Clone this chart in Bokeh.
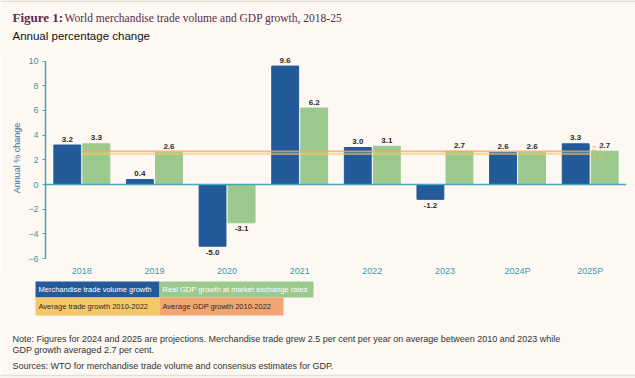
from bokeh.plotting import figure
from bokeh.layouts import column
from bokeh.models import ColumnDataSource, FactorRange, Range1d, FixedTicker, Span
from bokeh.transform import dodge
from bokeh.core.properties import value
from bokeh.embed import file_html
from bokeh.resources import INLINE

# ---- data -------------------------------------------------------------
years = ["2018", "2019", "2020", "2021", "2022", "2023", "2024P", "2025P"]
trade_growth = [3.2, 0.4, -5.0, 9.6, 3.0, -1.2, 2.6, 3.3]
gdp_growth = [3.3, 2.6, -3.1, 6.2, 3.1, 2.7, 2.6, 2.7]
avg_trade = 2.5
avg_gdp = 2.7
y_ticks = [-6, -4, -2, 0, 2, 4, 6, 8, 10]

legend_items = [
    "Merchandise trade volume growth",
    "Real GDP growth at market exchange rates",
    "Average trade growth 2010-2022",
    "Average GDP growth 2010-2022",
]
notes = [
    "Note: Figures for 2024 and 2025 are projections. Merchandise trade grew 2.5 per cent per year on average between 2010 and 2023 while",
    "GDP growth averaged 2.7 per cent.",
    "Sources: WTO for merchandise trade volume and consensus estimates for GDP.",
]

# ---- style ------------------------------------------------------------
BG = "#fdf8f2"
BLUE = "#235a9a"
GREEN = "#9bc98e"
YELLOW = "#f3c868"
ORANGE = "#f3a571"
TEAL = "#45a6b8"
TEAL_TXT = "#3a9ab0"
PLUM = "#5a2c4e"
SANS = "Liberation Sans"
SERIF = "Liberation Serif"
W = 635
HEAD_H, MAIN_H, FOOT_H = 52, 227, 99


def lab(v):
    return f"{v:.1f}"


def canvas_fig(h):
    """A figure whose frame is the whole canvas, in pixel units from top-left."""
    f = figure(width=W, height=h, x_range=Range1d(0, W), y_range=Range1d(h, 0),
               output_backend="svg", toolbar_location=None, min_border=0,
               x_axis_location=None, y_axis_location=None)
    f.frame_align = False
    f.grid.grid_line_color = None
    f.outline_line_color = None
    f.background_fill_color = BG
    f.border_fill_color = BG
    return f


# ---- header -----------------------------------------------------------
head = canvas_fig(HEAD_H)
head.line(x=[0, W], y=[0.5, 0.5], line_color="#d9d6d2", line_width=1.5)
head.text(x=[12], y=[17], text=["Figure 1:"], text_font=value(SERIF),
          text_font_style="bold", text_font_size="13px", text_color=PLUM,
          text_baseline="middle")
head.text(x=[64], y=[17], text=["World merchandise trade volume and GDP growth, 2018-25"],
          text_font=value(SERIF), text_font_size="11.5px", text_color=PLUM,
          text_baseline="middle")
head.text(x=[12], y=[35], text=["Annual percentage change"], text_font=value(SANS),
          text_font_size="11.5px", text_color="#111111", text_baseline="middle")

# ---- main chart -------------------------------------------------------
src = ColumnDataSource(dict(
    year=years,
    trade=trade_growth,
    gdp=gdp_growth,
    trade_lab=[lab(v) for v in trade_growth],
    gdp_lab=[lab(v) for v in gdp_growth],
    trade_off=[6 if v < 0 else -6 for v in trade_growth],
    gdp_off=[6 if v < 0 else -6 for v in gdp_growth],
))

p = figure(width=W, height=MAIN_H, x_range=FactorRange(factors=years, range_padding=0),
           y_range=Range1d(-6.4, 10.7), output_backend="svg", toolbar_location=None,
           min_border_left=45, min_border_right=9, min_border_top=0,
           min_border_bottom=16)
p.frame_align = False
p.background_fill_color = BG
p.border_fill_color = BG
p.outline_line_color = None
p.grid.grid_line_color = None

p.vbar(x=dodge("year", -0.2, range=p.x_range), top="trade", width=0.37,
       source=src, color=BLUE)
p.vbar(x=dodge("year", 0.2, range=p.x_range), top="gdp", width=0.37,
       source=src, color=GREEN)

p.add_layout(Span(location=0, dimension="width", line_color=TEAL, line_width=1.5))

# period averages, drawn over the bars
p.line(x=[years[0], years[-1]], y=[avg_gdp, avg_gdp], line_color=ORANGE,
       line_width=1.5, line_alpha=0.8)
p.line(x=[years[0], years[-1]], y=[avg_trade, avg_trade], line_color=YELLOW,
       line_width=2.5, line_alpha=0.6)

for col, dx in (("trade", -0.2), ("gdp", 0.2)):
    p.text(x=dodge("year", dx, range=p.x_range), y=col, text=col + "_lab",
           y_offset=col + "_off", source=src, text_align="center",
           text_baseline="middle", text_font=value(SANS), text_font_style="bold",
           text_font_size="8px", text_color="#2b2b2b")

p.text(x=[years[-1]], y=[avg_gdp], text=[lab(avg_gdp)], x_offset=7, y_offset=-3,
       text_align="center", text_baseline="middle", text_font=value(SANS),
       text_font_size="8px", text_color=ORANGE)
p.text(x=[years[-1]], y=[avg_trade], text=[lab(avg_trade)], x_offset=7, y_offset=2,
       text_align="center", text_baseline="middle", text_font=value(SANS),
       text_font_size="8px", text_color="#e8be5a")

p.yaxis.ticker = FixedTicker(ticks=y_ticks)
p.yaxis.bounds = (-6, 10)
p.yaxis.axis_line_color = TEAL
p.yaxis.axis_line_width = 1.5
p.yaxis.major_tick_line_color = TEAL
p.yaxis.major_tick_out = 3
p.yaxis.major_tick_in = 0
p.yaxis.minor_tick_line_color = None
p.yaxis.major_label_text_color = TEAL_TXT
p.yaxis.major_label_text_font = SANS
p.yaxis.major_label_text_font_size = "9px"
p.yaxis.major_label_standoff = 4
p.yaxis.axis_label = "Annual % change"
p.yaxis.axis_label_text_color = "#3d6fa6"
p.yaxis.axis_label_text_font = SANS
p.yaxis.axis_label_text_font_style = "normal"
p.yaxis.axis_label_text_font_size = "9px"
p.yaxis.axis_label_standoff = 3

p.xaxis.axis_line_color = None
p.xaxis.major_tick_line_color = None
p.xaxis.major_tick_out = 0
p.xaxis.major_tick_in = 0
p.xaxis.minor_tick_line_color = None
p.xaxis.major_label_text_color = TEAL_TXT
p.xaxis.major_label_text_font = SANS
p.xaxis.major_label_text_font_size = "9px"
p.xaxis.major_label_standoff = 2

# ---- legend and footer ------------------------------------------------
foot = canvas_fig(FOOT_H)
y0 = HEAD_H + MAIN_H  # page offset of this panel
rows = [  # left, right, top, bottom (page pixels), fill, text colour
    (35, 159, 281, 297, BLUE, "white"),
    (159, 313, 281, 297, GREEN, "white"),
    (35, 159, 297, 315, YELLOW, "#2b2b2b"),
    (159, 283, 297, 315, ORANGE, "#2b2b2b"),
]
foot.quad(left=[r[0] for r in rows], right=[r[1] for r in rows],
          top=[r[2] - y0 for r in rows], bottom=[r[3] - y0 for r in rows],
          fill_color=[r[4] for r in rows], line_color=None)
foot.text(x=[r[0] + 3 for r in rows], y=[(r[2] + r[3]) / 2 - y0 for r in rows],
          text=legend_items, text_color=[r[5] for r in rows],
          text_baseline="middle", text_font=value(SANS), text_font_size="7.5px")
foot.text(x=[12, 12, 12], y=[338 - y0, 349 - y0, 365 - y0], text=notes,
          text_baseline="middle", text_font=value(SANS), text_font_size="9px",
          text_color="#333333")
foot.line(x=[0, W], y=[FOOT_H - 3, FOOT_H - 3], line_color="#e3e0dc", line_width=1.5)

layout = column(head, p, foot, spacing=0)
open("out.html", "w").write(file_html(layout, INLINE))
